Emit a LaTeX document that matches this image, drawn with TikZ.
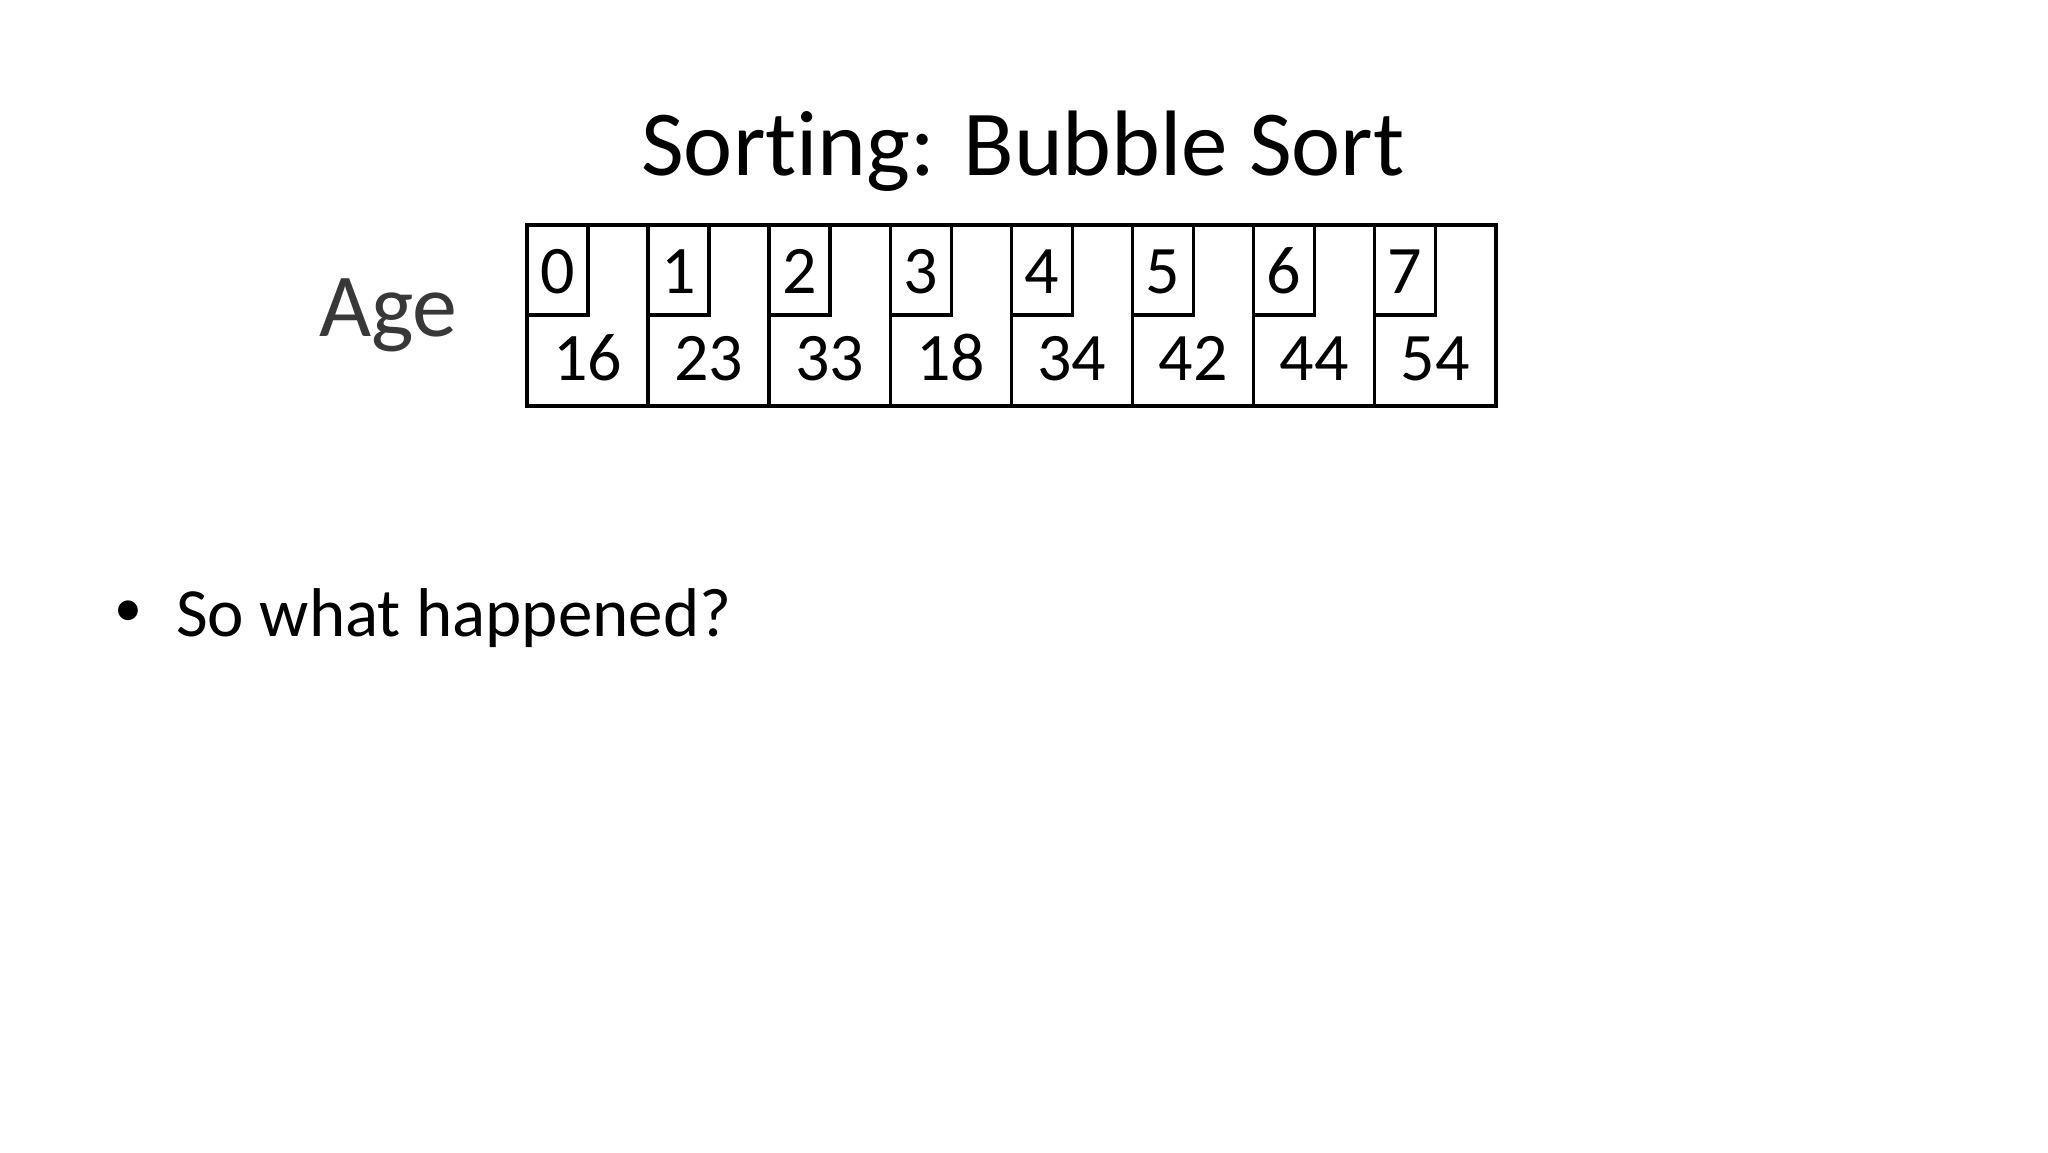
\documentclass[tikz,border=0pt]{standalone}
\usepackage{fontspec}
\setmainfont{Carlito}[Ligatures=NoCommon]
\begin{document}
\begin{tikzpicture}[x=1pt,y=-1pt,
  cellbox/.style={draw=black,line width=3.5pt,minimum width=121.1pt,minimum height=181pt,inner sep=0pt,outer sep=0pt},
  idxbox/.style={draw=black,line width=3.5pt,minimum width=61pt,minimum height=90pt,inner sep=0pt,outer sep=0pt,anchor=north west},
  numtxt/.style={font=\fontsize{68}{80}\selectfont,inner sep=0pt,anchor=base},
  titletxt/.style={font=\fontsize{93}{100}\selectfont,inner sep=0pt,anchor=base},
  agetxt/.style={font=\fontsize{90}{100}\selectfont,text=black!78,inner sep=0pt,anchor=base west},
  bodytxt/.style={font=\fontsize{69}{86}\selectfont,inner sep=0pt,anchor=base west},
  bullettxt/.style={font=\fontsize{56}{60}\selectfont,inner sep=0pt,anchor=center}]
\useasboundingbox (0,0) rectangle (2048,1152);
\node[titletxt] (title) at (1023,175) {Sorting: Bubble Sort};
\node[agetxt] (age) at (319,336) {Age};
\foreach \i/\v in {0/16,1/23,2/33,3/18,4/34,5/42,6/44,7/54}{
  \pgfmathsetmacro{\cx}{527+60.55+121.1*\i}
  \node[cellbox] (c\i) at (\cx,315.5) {};
  \node[idxbox] (i\i) at (c\i.north west) {};
  \node[numtxt] (n\i) at (\cx,380) {\v};
  \node[numtxt] (k\i) at ([xshift=30.5pt]c\i.north west |- 0,293) {\i};
}
\node[bullettxt] (bullet) at (128,614) {•};
\node[bodytxt] (body) at (176,636) {So what happened?};
\end{tikzpicture}
\end{document}
